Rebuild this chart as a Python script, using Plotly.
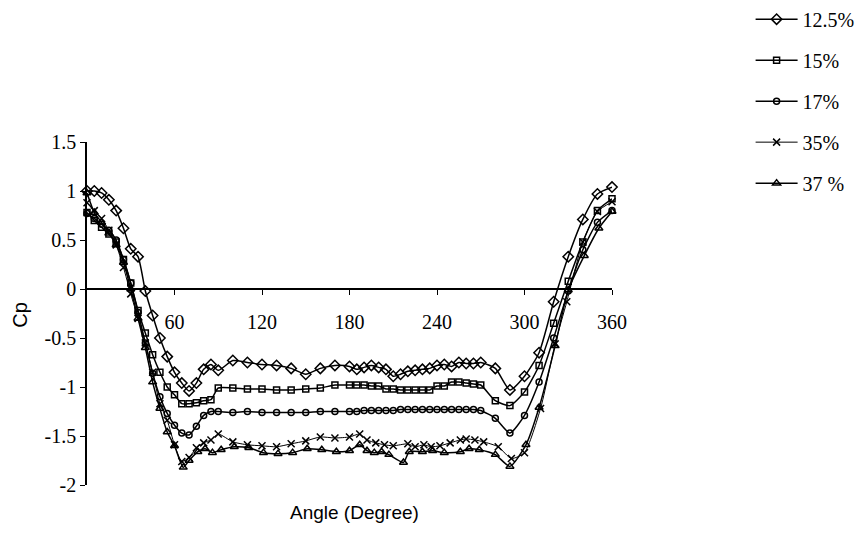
import plotly.graph_objects as go

# ---- data (angle in degrees, pressure coefficient Cp) ----
angle_125 = [0, 5, 10, 15, 20, 25, 30, 35, 40, 45, 50, 55, 60, 65, 70, 75, 80, 85, 90, 100, 110, 120, 130,
             140, 150, 160, 170, 180, 185, 190, 195, 200, 205, 210, 215, 220, 225, 230, 235, 240, 245, 250,
             255, 260, 265, 270, 280, 290, 300, 310, 320, 330, 340, 350, 360]
cp_125 = [1.00, 1.00, 0.98, 0.91, 0.80, 0.62, 0.41, 0.33, -0.02, -0.27, -0.50, -0.69, -0.85, -0.96, -1.04,
          -0.96, -0.82, -0.77, -0.83, -0.73, -0.75, -0.77, -0.78, -0.81, -0.87, -0.81, -0.78, -0.79, -0.82,
          -0.80, -0.78, -0.80, -0.82, -0.89, -0.87, -0.84, -0.83, -0.82, -0.81, -0.78, -0.77, -0.79, -0.75,
          -0.76, -0.76, -0.75, -0.81, -1.03, -0.89, -0.65, -0.13, 0.33, 0.71, 0.97, 1.04]

angle_15 = [0, 5, 10, 15, 20, 25, 30, 35, 40, 45, 50, 55, 60, 65, 70, 75, 80, 85, 90, 100, 110, 120, 130,
            140, 150, 160, 170, 180, 185, 190, 195, 200, 205, 210, 215, 220, 225, 230, 235, 240, 245, 250,
            255, 260, 265, 270, 280, 290, 300, 310, 320, 330, 340, 350, 360]
cp_15 = [0.78, 0.70, 0.63, 0.56, 0.48, 0.30, 0.06, -0.22, -0.45, -0.67, -0.85, -1.00, -1.08, -1.17, -1.17,
         -1.16, -1.14, -1.13, -1.01, -1.01, -1.02, -1.02, -1.03, -1.03, -1.02, -1.01, -0.98, -0.98, -0.98,
         -0.98, -0.99, -0.99, -1.02, -1.02, -1.03, -1.03, -1.03, -1.03, -1.03, -0.99, -0.99, -0.95, -0.95,
         -0.96, -0.97, -0.98, -1.14, -1.19, -1.05, -0.78, -0.35, 0.08, 0.48, 0.80, 0.92]

angle_17 = [0, 5, 10, 15, 20, 25, 30, 35, 40, 45, 50, 55, 60, 65, 70, 75, 80, 85, 90, 100, 110, 120, 130,
            140, 150, 160, 170, 180, 185, 190, 195, 200, 205, 210, 215, 220, 225, 230, 235, 240, 245, 250,
            255, 260, 265, 270, 280, 290, 300, 310, 320, 330, 340, 350, 360]
cp_17 = [0.77, 0.72, 0.66, 0.60, 0.50, 0.30, 0.06, -0.24, -0.55, -0.86, -1.10, -1.27, -1.39, -1.47, -1.49,
         -1.40, -1.29, -1.25, -1.25, -1.26, -1.25, -1.26, -1.26, -1.26, -1.26, -1.25, -1.25, -1.25, -1.25,
         -1.24, -1.24, -1.24, -1.24, -1.24, -1.23, -1.23, -1.23, -1.23, -1.23, -1.23, -1.23, -1.23, -1.23,
         -1.23, -1.23, -1.24, -1.32, -1.47, -1.29, -0.95, -0.50, -0.02, 0.40, 0.68, 0.80]

angle_35 = [0, 5, 10, 15, 20, 25, 30, 35, 40, 45, 50, 55, 60, 65, 70, 75, 80, 85, 90, 100, 110, 120, 130,
            140, 150, 160, 170, 180, 187, 192, 198, 204, 210, 220, 225, 231, 236, 242, 249, 256, 260, 266,
            272, 282, 291, 300, 311, 321, 329, 340, 350, 360]
cp_35 = [0.88, 0.80, 0.72, 0.60, 0.45, 0.22, -0.05, -0.30, -0.55, -0.85, -1.17, -1.34, -1.59, -1.76, -1.72,
         -1.62, -1.57, -1.54, -1.48, -1.56, -1.59, -1.60, -1.61, -1.58, -1.55, -1.51, -1.52, -1.51, -1.48,
         -1.54, -1.57, -1.59, -1.60, -1.58, -1.61, -1.59, -1.61, -1.60, -1.57, -1.54, -1.53, -1.54, -1.56,
         -1.61, -1.73, -1.67, -1.22, -0.56, -0.13, 0.48, 0.79, 0.89]

angle_37 = [0, 5, 10, 15, 20, 25, 30, 35, 40, 45, 50, 55, 60, 66, 70, 76, 81, 86, 92, 101, 111, 121, 131,
            141, 151, 161, 171, 180, 187, 192, 197, 202, 207, 217, 221, 230, 237, 245, 256, 262, 269, 280,
            290, 301, 310, 321, 330, 341, 351, 360]
cp_37 = [0.98, 0.78, 0.68, 0.57, 0.45, 0.27, 0.00, -0.30, -0.60, -0.95, -1.22, -1.46, -1.60, -1.82, -1.75,
         -1.66, -1.63, -1.67, -1.64, -1.61, -1.62, -1.67, -1.68, -1.67, -1.63, -1.64, -1.66, -1.65, -1.59,
         -1.65, -1.67, -1.66, -1.69, -1.77, -1.66, -1.66, -1.65, -1.67, -1.66, -1.63, -1.64, -1.69, -1.81,
         -1.59, -1.21, -0.58, -0.01, 0.34, 0.62, 0.79]

series_names = ["12.5%", "15%", "17%", "35%", "37 %"]
x_tick_vals = [60, 120, 180, 240, 300, 360]
x_tick_text = ["60", "120", "180", "240", "300", "360"]
y_tick_vals = [-2, -1.5, -1, -0.5, 0, 0.5, 1, 1.5]
y_tick_text = ["-2", "-1.5", "-1", "-0.5", "0", "0.5", "1", "1.5"]

SERIF = "Liberation Serif, Times New Roman, serif"
SANS = "Liberation Sans, Arial, sans-serif"

series = [
    (angle_125, cp_125, "diamond-open", 8, 1.5),
    (angle_15, cp_15, "square-open", 6, 1.5),
    (angle_17, cp_17, "circle-open", 6, 1.5),
    (angle_35, cp_35, "x-thin-open", 7, 1.0),
    (angle_37, cp_37, "triangle-up-open", 7, 1.5),
]

fig = go.Figure()
for name, (xs, ys, sym, msize, lw) in zip(series_names, series):
    fig.add_trace(go.Scatter(
        x=xs, y=ys, name=name, mode="lines+markers", legendgroup=name,
        line=dict(color="black", width=lw, shape="spline", smoothing=0.6),
        marker=dict(symbol=sym, size=msize, color="black", line=dict(color="black", width=1.5)),
        cliponaxis=False,
    ))

fig.update_xaxes(
    range=[0, 360], tickvals=x_tick_vals, ticktext=x_tick_text,
    ticks="outside", ticklen=5, tickwidth=1.2, tickcolor="black",
    showline=True, linecolor="black", linewidth=1.5,
    anchor="free", position=2 / 3.5,
    showgrid=False, zeroline=False,
    tickfont=dict(family=SERIF, size=20, color="black"),
    ticklabelstandoff=10,
)
fig.update_yaxes(
    range=[-2, 1.5], tickvals=y_tick_vals, ticktext=y_tick_text,
    ticks="outside", ticklen=5, tickwidth=1.2, tickcolor="black",
    showline=True, linecolor="black", linewidth=1.5,
    showgrid=False, zeroline=False,
    tickfont=dict(family=SERIF, size=20, color="black"),
)

fig.add_annotation(text="Cp", x=-0.128, y=0.496, xref="paper", yref="paper", showarrow=False,
                   xanchor="center", yanchor="middle",
                   textangle=-90, font=dict(family=SANS, size=20, color="black"))
fig.add_annotation(text="Angle (Degree)", x=0.509, y=-0.079, xref="paper", yref="paper", showarrow=False,
                   xanchor="center", yanchor="middle",
                   font=dict(family=SANS, size=19, color="black"))

fig.update_layout(
    width=864, height=533,
    margin=dict(l=87, r=252, t=142, b=48, autoexpand=False),
    paper_bgcolor="white", plot_bgcolor="white",
    legend=dict(x=1.264, y=1.415, xanchor="left", yanchor="top", tracegroupgap=12, itemwidth=42,
                font=dict(family=SERIF, size=20, color="black"), bgcolor="rgba(0,0,0,0)"),
)

fig.write_html("out.html")
